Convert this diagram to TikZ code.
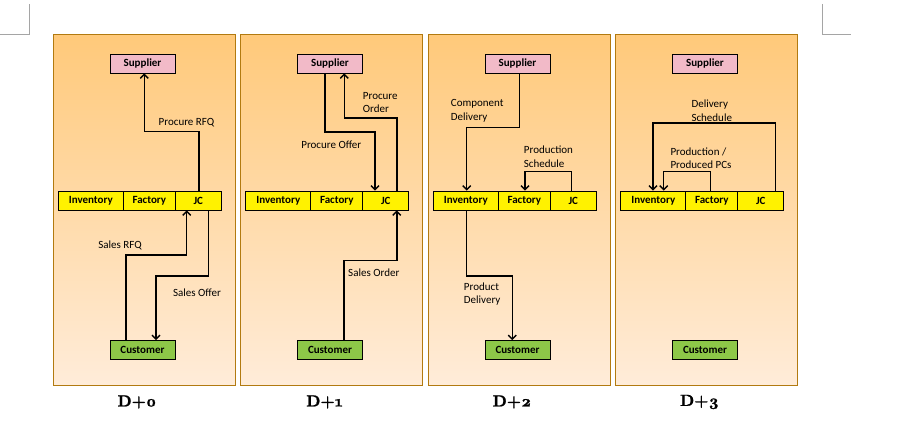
\documentclass[tikz,border=0pt]{standalone}
\usepackage{fontspec}
\setmainfont{Carlito}
\newfontfamily\titlefont{lmroman10-bold}[Extension=.otf,Numbers=OldStyle,FakeBold=1.2]
\usetikzlibrary{arrows.meta}
\definecolor{panelTop}{RGB}{255,201,122}
\definecolor{panelBot}{RGB}{255,236,217}
\definecolor{panelEdge}{RGB}{178,122,16}
\definecolor{supFill}{RGB}{242,186,200}
\definecolor{cusFill}{RGB}{141,199,72}
\definecolor{markGray}{RGB}{165,165,165}

\begin{document}
\begin{tikzpicture}[x=1pt,y=-1pt,
	box/.style={draw=black,line width=0.8pt,minimum height=19pt,inner sep=0pt,font=\bfseries\fontsize{11}{13}\selectfont},
	flow/.style={line width=1.4pt,-{Straight Barb[length=4pt,width=8pt]}},
	lbl/.style={font=\fontsize{11}{13.3}\selectfont,align=left,inner sep=0pt}]
	\useasboundingbox (0,0) rectangle (905,433);
	\draw[markGray,line width=0.8pt] (0,34)--(29,34)--(29,4);
	\draw[markGray,line width=0.8pt] (822,4)--(822,34)--(851,34);
	
	\foreach \i in {0,...,3}{
	\begin{scope}[xshift=187.5*\i]
		\shade[top color=panelTop,bottom color=panelBot,draw=panelEdge,line width=1pt] (53,35) rectangle (235,385);
		\node[box,fill=supFill,minimum width=65pt] (sup\i) at (142.5,63.5) {Supplier};
		\node[box,fill=yellow,minimum width=65pt] (inv\i) at (90.8,200.5) {Inventory};
		\node[box,fill=yellow,minimum width=52pt] (fac\i) at (149.3,200.5) {Factory};
		\node[box,fill=yellow,minimum width=46pt] (jc\i) at (198.3,200.5) {JC};
		\node[box,fill=cusFill,minimum width=65pt] (cus\i) at (142.5,350) {Customer};
		\node[font=\titlefont\fontsize{16}{18}\selectfont] (day\i) at (137,402) {D+\i};
	\end{scope}
	}
	
	% D+0
	\draw[flow] ([xshift=0.7]jc0.north)--++(0,-59)-|([xshift=1.8]sup0.south);
	\draw[flow] ([xshift=-16.5]cus0.north)--++(0,-85)-|([xshift=-11.6]jc0.south);
	\draw[flow] ([xshift=10]jc0.south)--++(0,65.7)-|([xshift=13.5]cus0.north);
	\node[lbl] (rfq) at (186.5,123) {Procure RFQ};
	\node[lbl] (srfq) at (120,245.7) {Sales RFQ};
	\node[lbl] (soff) at (197,292.3) {Sales Offer};
	
	% D+1
	\draw[flow] ([xshift=-5]sup1.south)--++(0,58.7)-|([xshift=-10.8]jc1.north);
	\draw[flow] ([xshift=11]jc1.north)--++(0,-72.7)-|([xshift=14.3]sup1.south);
	\draw[flow] ([xshift=14]cus1.north)--++(0,-79.8)-|([xshift=11]jc1.south);
	\node[lbl] (poff) at (331.3,145) {Procure Offer};
	\node[lbl,anchor=west] (pord) at (362.7,102.3) {Procure\\Order};
	\node[lbl] (sord) at (373.8,272.7) {Sales Order};
	
	% D+2
	\draw[flow] ([xshift=1.8]sup2.south)--++(0,54.3)-|([xshift=0.9]inv2.north);
	\draw[flow] ([xshift=-1.6]jc2.north)--++(0,-19.3)-|([xshift=0.7]fac2.north);
	\draw[flow] ([xshift=0.9]inv2.south)--++(0,65.7)-|([xshift=-5.2]cus2.north);
	\node[lbl,anchor=west] (cdel) at (450.7,110.7) {Component\\Delivery};
	\node[lbl,anchor=west] (psch) at (523.7,156.7) {Production\\Schedule};
	\node[lbl,anchor=west] (pdel) at (463.7,294) {Product\\Delivery};
	
	% D+3
	\draw[flow] ([xshift=14.5]jc3.north)--++(0,-67.7)-|([xshift=-0.3]inv3.north);
	\draw[flow] ([xshift=-1.5]fac3.north)--++(0,-19.3)-|([xshift=10.4]inv3.north);
	\node[lbl,anchor=west] (dsch) at (691.3,110.7) {Delivery\\Schedule};
	\node[lbl,anchor=west] (ppcs) at (670.3,158.3) {Production /\\Produced PCs};
\end{tikzpicture}
\end{document}
